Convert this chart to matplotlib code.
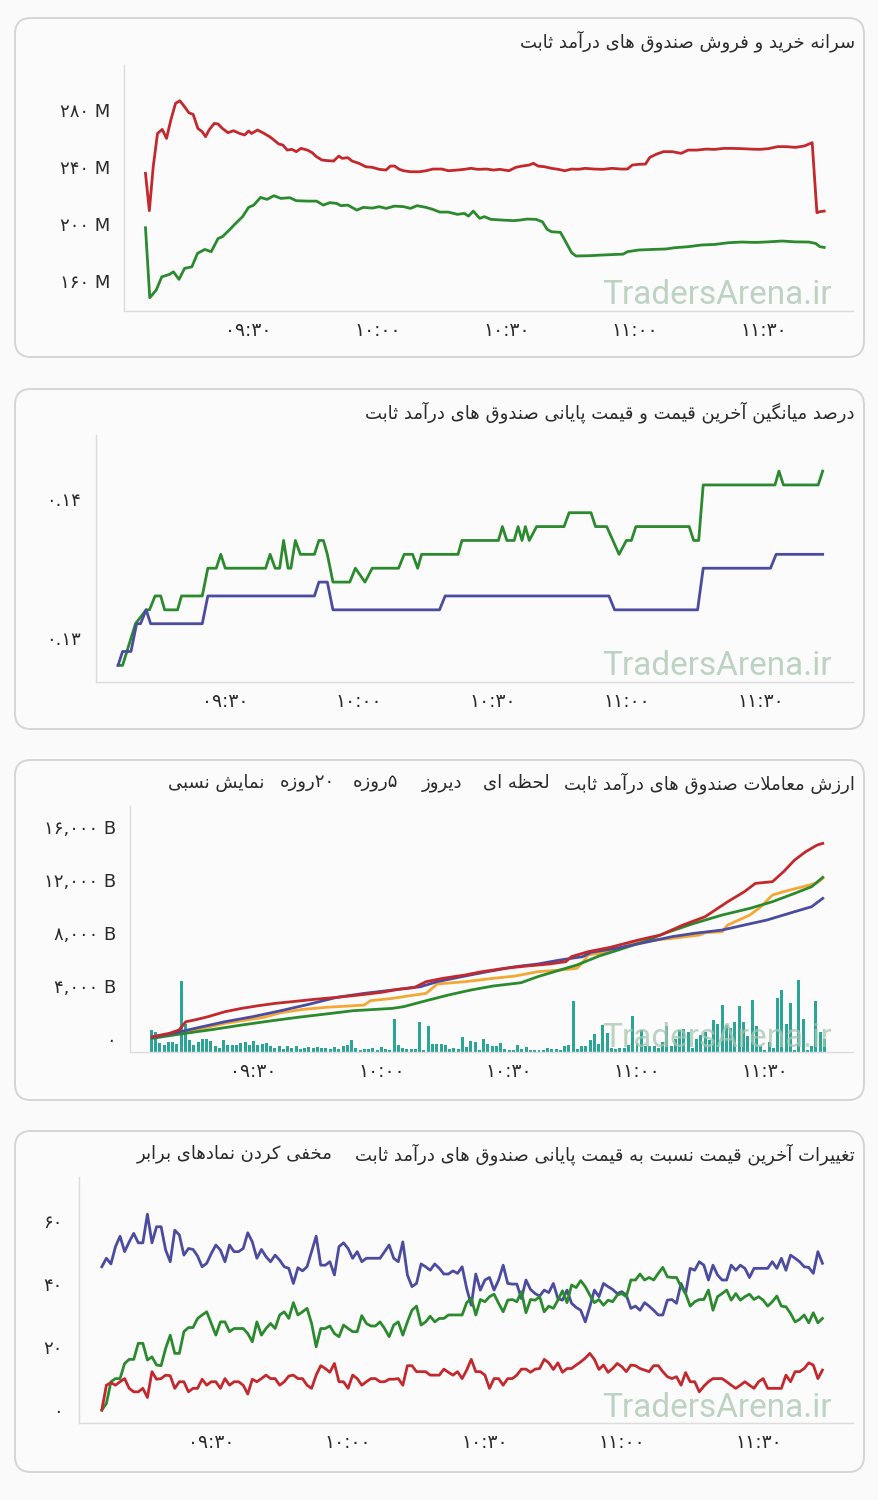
import matplotlib
matplotlib.use('Agg')
import matplotlib.pyplot as plt
import matplotlib.transforms as mtransforms
from matplotlib.patches import FancyBboxPatch

# ---------------- datos ----------------
# tiempo en minutos desde las 09:00
x_ticks = [30, 60, 90, 120, 150]
x_labels = ['09:30', '10:00', '10:30', '11:00', '11:30']

# panel 1: سرانه خرید و فروش (millones)
t_sell = [6.0, 6.9, 7.8, 8.8, 9.9, 10.9, 11.9, 13.0, 14.0, 15.1, 16.1, 17.1, 18.2, 19.2, 20.0, 20.8, 22.0, 22.9, 23.9, 25.2,
          26.5, 27.9, 29.1, 30.0, 30.7, 32.1, 33.3, 34.9, 35.9, 37.0, 38.0, 39.0, 40.1, 41.1, 42.2, 43.7, 44.8, 45.8, 47.1, 48.4,
          49.8, 51.0, 51.8, 53.1, 54.1, 55.7, 57.3, 58.8, 60.4, 62.0, 63.0, 64.0, 65.1, 66.1, 67.7, 69.8, 71.3, 72.9, 75.0, 76.5,
          78.6, 80.2, 81.8, 83.3, 85.4, 87.0, 88.5, 90.6, 92.2, 93.7, 95.3, 96.3, 97.4, 98.9, 100.5, 102.1, 103.6, 105.2, 106.8, 108.3,
          110.4, 112.5, 114.6, 116.7, 118.2, 119.3, 120.8, 122.4, 123.4, 125.0, 126.6, 128.6, 130.7, 132.3, 134.4, 136.5, 138.5, 140.6, 142.7, 144.8,
          146.9, 149.0, 151.0, 153.1, 155.2, 157.3, 159.4, 161.2, 162.3, 163.0, 164.0]
sell = [235.6, 209.4, 240.2, 263.6, 266.4, 260.1, 273.0, 284.7, 286.5, 282.3, 278.1, 276.9, 267.1, 264.8, 261.3, 266.0, 270.6, 270.2, 267.1, 264.1,
        265.5, 263.6, 262.5, 265.3, 263.6, 266.0, 264.1, 261.3, 259.0, 256.2, 255.4, 251.9, 252.4, 250.8, 253.1, 251.9, 250.1, 247.3, 244.9, 244.5,
        244.2, 247.7, 246.1, 246.6, 244.2, 242.6, 240.2, 239.8, 238.4, 237.9, 240.7, 240.7, 238.4, 237.4, 236.7, 236.7, 237.4, 238.6, 238.6, 237.4,
        237.9, 238.4, 239.1, 238.4, 238.6, 237.9, 238.4, 237.4, 239.8, 240.7, 241.4, 242.6, 240.7, 240.2, 239.1, 238.4, 237.4, 238.6, 238.4, 239.1,
        238.6, 238.4, 239.1, 238.6, 238.6, 241.4, 241.9, 242.1, 246.8, 249.1, 250.8, 250.8, 249.6, 251.9, 251.9, 252.6, 252.4, 253.1, 253.1, 252.9,
        252.6, 252.4, 252.9, 254.3, 254.3, 253.8, 254.8, 257.1, 208.0, 208.7, 209.1]
t_buy = [6.0, 7.0, 8.5, 9.8, 11.6, 12.5, 13.8, 15.1, 16.8, 18.1, 19.8, 21.3, 22.9, 23.9, 25.5, 27.0, 28.6, 30.0, 31.2, 32.8,
         34.3, 35.9, 37.5, 39.6, 41.1, 43.7, 45.8, 47.4, 48.9, 50.5, 51.5, 53.1, 55.2, 56.7, 58.8, 60.4, 62.0, 64.0, 66.1, 67.7,
         69.2, 71.3, 72.9, 74.5, 76.5, 78.6, 80.2, 81.2, 82.3, 83.8, 84.9, 86.4, 89.0, 91.7, 93.2, 94.8, 96.9, 98.4, 99.5, 100.5,
         102.6, 103.6, 105.2, 106.2, 109.4, 112.5, 115.6, 117.2, 118.2, 120.8, 124.0, 127.1, 129.2, 132.3, 135.4, 138.5, 141.7, 144.8, 147.9, 151.0,
         154.2, 157.3, 160.4, 162.0, 163.0, 164.0]
buy = [197.4, 148.3, 153.7, 163.0, 164.7, 166.5, 161.2, 168.9, 170.0, 179.4, 182.2, 180.6, 189.9, 191.1, 195.8, 200.5, 205.2, 211.7, 213.3, 218.7,
       217.3, 219.9, 218.0, 218.5, 216.4, 216.1, 216.1, 213.3, 215.0, 214.5, 212.9, 213.3, 209.8, 211.7, 211.2, 212.2, 211.0, 212.6, 212.2, 211.0,
       212.9, 211.7, 210.3, 208.4, 208.4, 206.8, 207.5, 205.6, 209.1, 204.0, 205.2, 203.3, 202.8, 202.4, 202.8, 203.5, 203.3, 201.6, 196.3, 194.6,
       194.2, 188.8, 179.9, 177.6, 177.8, 178.3, 178.7, 178.9, 180.6, 181.8, 182.2, 182.5, 183.4, 184.1, 185.3, 185.7, 186.9, 187.4, 187.1, 187.5,
       188.1, 187.5, 187.4, 186.4, 184.1, 183.6]

# panel 2: درصد میانگین
t_last = [5.95, 6.96, 9.85, 12.24, 12.99, 14.25, 15.51, 16.39, 19.28, 20.16, 24.82, 26.07, 27.96, 28.97, 29.97, 39.03, 40.03, 41.16, 42.17, 43.05,
          44.06, 44.69, 45.69, 46.82, 49.97, 50.97, 51.98, 52.86, 54.12, 57.89, 59.15, 61.29, 62.92, 68.83, 70.09, 71.98, 73.11, 73.99, 82.16, 83.04,
          91.22, 92.1, 93.1, 94.74, 95.62, 96.5, 97.25, 98.13, 99.77, 105.93, 107.06, 111.97, 112.98, 115.49, 118.26, 119.89, 121.02, 122.03, 133.97, 134.98,
          136.11, 137.12, 153.21, 154.1, 155.1, 162.9, 163.9]
last_pct = [0.128, 0.128, 0.131, 0.132, 0.132, 0.133, 0.133, 0.132, 0.132, 0.133, 0.133, 0.135, 0.135, 0.136, 0.135, 0.135, 0.136, 0.135, 0.135, 0.137,
            0.135, 0.135, 0.137, 0.136, 0.136, 0.137, 0.137, 0.136, 0.134, 0.134, 0.135, 0.134, 0.135, 0.135, 0.136, 0.136, 0.135, 0.136, 0.136, 0.137,
            0.137, 0.138, 0.137, 0.137, 0.138, 0.137, 0.138, 0.137, 0.138, 0.138, 0.139, 0.139, 0.138, 0.138, 0.136, 0.137, 0.137, 0.138, 0.138, 0.137,
            0.137, 0.141, 0.141, 0.142, 0.141, 0.141, 0.142]
t_close = [5.95, 6.96, 8.84, 10.1, 10.98, 12.24, 13.25, 24.82, 26.07, 49.97, 50.97, 52.86, 54.12, 78.01, 79.27, 115.99, 117.25, 135.86, 137.12, 152.21,
           153.47, 163.9]
close_pct = [0.128, 0.129, 0.129, 0.131, 0.131, 0.132, 0.131, 0.131, 0.133, 0.133, 0.134, 0.134, 0.132, 0.132, 0.133, 0.133, 0.132, 0.132, 0.135, 0.135,
             0.136, 0.136]

# panel 3: ارزش معاملات (میلیارد)
t_val_red = [6.2, 10.2, 12.5, 14.1, 16.1, 19.3, 23.3, 27.2, 31.1, 35.1, 39.0, 44.2, 49.5, 54.7, 60.0, 63.9, 67.8, 70.5, 74.4, 79.6,
             83.6, 88.8, 94.1, 99.3, 103.3, 104.6, 108.5, 113.7, 120.3, 125.5, 130.8, 136.0, 141.3, 145.2, 147.8, 151.8, 154.4, 157.0, 159.6, 162.3, 163.6]
val_red = [173, 425, 676, 1305, 1431, 1683, 2060, 2312, 2513, 2689, 2815, 2991, 3142, 3318, 3519, 3746, 3897, 4325, 4576, 4828,
           5080, 5331, 5507, 5658, 5836, 6212, 6589, 6916, 7470, 7847, 8602, 9231, 10363, 11118, 11747, 11873, 12627, 13508, 14137, 14640, 14766]
t_val_blue = [6.2, 12.8, 18.0, 23.3, 29.8, 36.4, 42.9, 49.5, 56.0, 62.6, 69.2, 73.1, 79.6, 84.9, 91.4, 96.7, 101.9, 107.2, 109.2, 115.1,
              121.6, 128.2, 133.4, 140.0, 145.2, 150.5, 157.0, 161.0, 163.6]
val_blue = [123, 551, 928, 1305, 1683, 2136, 2614, 3142, 3444, 3696, 3947, 4325, 4752, 5080, 5457, 5658, 5960, 6212, 6539, 6841,
            7268, 7721, 7973, 8224, 8602, 8979, 9608, 9986, 10615]
t_val_orange = [6.2, 12.8, 18.0, 23.3, 27.2, 32.4, 36.4, 41.6, 46.9, 52.1, 56.0, 57.4, 62.6, 67.8, 70.5, 73.1, 79.6, 86.2, 91.4, 96.7,
                101.9, 105.9, 107.2, 108.5, 113.7, 120.3, 128.2, 134.7, 136.0, 140.0, 141.3, 146.5, 149.1, 151.8, 154.4, 159.6, 162.3, 163.6]
val_orange = [123, 475, 802, 1180, 1381, 1633, 1985, 2237, 2388, 2488, 2563, 2890, 3066, 3318, 3444, 4149, 4325, 4576, 4752, 5080,
              5205, 5331, 5759, 6338, 6589, 7344, 7595, 7847, 8023, 8099, 8602, 9357, 9986, 10866, 11118, 11546, 11797, 12124]
t_val_green = [6.2, 12.8, 20.6, 27.2, 33.8, 40.3, 46.9, 53.4, 62.6, 65.2, 70.5, 75.7, 81.0, 86.2, 92.8, 96.7, 101.9, 105.9, 111.1, 115.1,
               121.6, 126.9, 133.4, 140.0, 146.5, 151.8, 157.0, 161.0, 163.6]
val_green = [47, 375, 726, 1054, 1356, 1633, 1884, 2136, 2312, 2438, 2890, 3318, 3696, 3998, 4249, 4702, 5205, 5583, 6262, 6665,
             7344, 8023, 8728, 9357, 9860, 10363, 10992, 11495, 12200]
# ارزش معاملات هر دقیقه، از دقیقه ۶ تا ۱۶۴
minute_value = [220, 200, 90, 70, 100, 100, 80, 710, 280, 120,
                70, 100, 130, 130, 110, 60, 40, 120, 70, 70,
                70, 90, 100, 70, 110, 70, 80, 90, 60, 40,
                60, 30, 60, 40, 60, 30, 40, 50, 40, 50,
                40, 40, 30, 50, 30, 60, 70, 120, 40, 20,
                30, 30, 40, 20, 50, 30, 20, 330, 70, 40,
                30, 30, 30, 300, 20, 260, 80, 80, 80, 70,
                30, 40, 30, 150, 50, 110, 100, 20, 130, 80,
                60, 60, 90, 30, 20, 20, 70, 30, 50, 20,
                20, 20, 20, 40, 30, 30, 20, 60, 70, 510,
                30, 60, 60, 120, 180, 80, 270, 190, 40, 30,
                40, 40, 70, 360, 90, 220, 60, 60, 60, 40,
                100, 260, 60, 130, 220, 230, 200, 40, 130, 170,
                200, 120, 320, 280, 470, 270, 240, 300, 460, 300,
                160, 520, 260, 60, 20, 100, 40, 540, 620, 280,
                490, 20, 720, 330, 20, 60, 510, 200, 130]
minute_t = list(range(6, 6 + len(minute_value)))

# panel 4: تغییرات آخرین قیمت نسبت به قیمت پایانی
t_chg = list(range(6, 165))
chg_blue = [45.5, 48.2, 46.4, 51.9, 55.2, 50.3, 53.4, 56.1, 53.1, 53.1,
            62.2, 53.1, 58.2, 58.2, 50.8, 47.1, 57.1, 55.6, 49.2, 51.3,
            51.0, 48.9, 45.5, 46.6, 49.7, 52.4, 50.8, 47.1, 52.4, 50.3,
            50.3, 51.3, 56.3, 53.4, 48.2, 51.0, 48.7, 47.1, 49.2, 47.6,
            45.5, 45.0, 40.2, 45.2, 44.2, 45.5, 50.3, 55.2, 46.0, 46.0,
            47.1, 42.9, 51.9, 53.1, 51.3, 48.2, 50.3, 47.1, 48.2, 48.2,
            48.2, 48.2, 50.3, 52.4, 48.2, 47.1, 53.4, 42.9, 39.2, 40.2,
            46.4, 45.5, 44.4, 46.4, 45.0, 43.2, 43.2, 44.2, 43.4, 45.5,
            38.6, 33.3, 43.2, 38.1, 41.3, 42.1, 38.1, 41.3, 46.0, 40.2,
            40.0, 40.0, 35.4, 41.3, 38.3, 37.0, 36.2, 38.1, 37.3, 40.2,
            35.4, 34.9, 38.1, 33.9, 32.6, 31.7, 28.0, 32.8, 38.1, 36.0,
            40.2, 39.2, 38.3, 37.0, 37.6, 36.5, 32.3, 33.0, 31.7, 34.1,
            33.0, 31.7, 30.2, 30.2, 34.9, 35.1, 33.9, 40.2, 37.0, 45.0,
            44.4, 47.1, 46.0, 41.3, 46.0, 42.9, 41.3, 41.3, 46.0, 44.4,
            46.0, 45.0, 42.1, 45.0, 45.0, 45.0, 45.0, 47.1, 45.0, 48.2,
            44.4, 49.2, 48.2, 47.1, 45.5, 45.3, 43.4, 50.3, 46.6]
chg_green = [0.0, 2.1, 9.0, 10.0, 10.0, 14.8, 16.1, 16.1, 21.2, 21.2,
             15.9, 16.9, 14.3, 14.1, 19.6, 23.8, 18.0, 18.0, 24.9, 26.2,
             26.2, 29.1, 30.2, 31.2, 27.5, 23.8, 28.0, 28.0, 24.9, 25.9,
             25.9, 25.9, 24.3, 21.7, 28.0, 23.8, 25.9, 27.5, 25.9, 30.2,
             31.2, 29.1, 34.1, 30.2, 31.2, 32.3, 27.5, 20.1, 25.9, 25.9,
             26.7, 24.3, 23.3, 27.0, 25.9, 24.9, 24.9, 30.0, 27.5, 26.7,
             26.7, 28.0, 25.9, 23.3, 27.0, 28.0, 23.8, 28.0, 31.7, 33.0,
             27.0, 28.0, 29.8, 28.0, 29.1, 29.1, 30.2, 30.2, 30.2, 30.2,
             34.1, 35.5, 30.2, 35.1, 34.4, 36.0, 36.8, 33.9, 31.2, 34.9,
             35.1, 34.4, 37.6, 30.9, 35.1, 34.9, 36.0, 31.2, 33.0, 32.3,
             34.9, 37.9, 34.1, 39.7, 38.9, 41.1, 39.2, 36.5, 34.1, 35.1,
             33.3, 34.9, 34.4, 36.5, 37.0, 36.0, 41.3, 41.3, 43.2, 41.3,
             42.1, 41.3, 43.4, 45.3, 42.3, 42.1, 42.1, 39.2, 37.0, 33.0,
             34.4, 35.1, 35.1, 38.1, 31.7, 36.0, 37.0, 38.1, 34.9, 37.0,
             34.9, 36.0, 36.8, 35.1, 36.0, 34.9, 33.0, 34.4, 36.2, 33.0,
             32.8, 30.7, 28.0, 28.8, 30.2, 27.7, 30.9, 27.7, 29.1]
chg_red = [0.0, 7.9, 8.7, 7.9, 9.0, 10.0, 6.9, 5.8, 5.8, 6.9,
           4.0, 12.2, 9.8, 10.0, 11.1, 10.9, 6.9, 9.0, 9.0, 5.8,
           6.9, 6.9, 9.8, 7.9, 9.0, 9.0, 6.9, 10.0, 7.9, 9.0,
           9.0, 7.9, 5.1, 9.8, 9.0, 10.0, 11.1, 10.0, 10.0, 7.9,
           9.0, 10.8, 11.1, 10.0, 10.0, 7.9, 6.9, 11.1, 14.1, 13.2,
           12.0, 14.8, 9.0, 9.0, 6.9, 11.1, 10.0, 7.9, 9.0, 10.0,
           10.0, 9.0, 9.0, 9.8, 9.8, 10.0, 7.9, 14.1, 14.1, 12.2,
           12.2, 12.2, 11.1, 11.1, 11.1, 13.0, 12.0, 11.1, 12.2, 10.0,
           12.7, 16.1, 12.2, 12.2, 11.1, 6.9, 10.0, 10.0, 7.9, 10.0,
           10.0, 11.1, 13.0, 13.0, 12.0, 13.0, 13.2, 16.1, 15.0, 12.9,
           15.0, 12.0, 13.2, 13.2, 14.3, 15.3, 16.5, 18.0, 16.1, 12.9, 14.3,
           12.0, 13.2, 14.8, 13.8, 12.2, 14.3, 14.1, 13.2, 12.7, 12.2,
           14.1, 14.1, 12.2, 10.6, 10.0, 10.6, 7.9, 11.9, 9.0, 9.0,
           5.8, 7.6, 9.0, 10.0, 10.0, 10.0, 9.0, 7.9, 6.9, 7.9,
           9.0, 7.9, 6.9, 9.0, 10.0, 6.9, 6.9, 6.9, 6.9, 11.1, 9.0,
           12.2, 12.2, 13.2, 15.0, 14.3, 10.0, 12.7]

# ---------------- متن فارسی ----------------
FORMS = {
    'ا': ('\uFE8D', '\uFE8E', None, None), 'آ': ('\uFE81', '\uFE82', None, None),
    'ب': ('\uFE8F', '\uFE90', '\uFE91', '\uFE92'), 'پ': ('\uFB56', '\uFB57', '\uFB58', '\uFB59'),
    'ت': ('\uFE95', '\uFE96', '\uFE97', '\uFE98'), 'ث': ('\uFE99', '\uFE9A', '\uFE9B', '\uFE9C'),
    'ح': ('\uFEA1', '\uFEA2', '\uFEA3', '\uFEA4'), 'خ': ('\uFEA5', '\uFEA6', '\uFEA7', '\uFEA8'),
    'د': ('\uFEA9', '\uFEAA', None, None), 'ر': ('\uFEAD', '\uFEAE', None, None),
    'ز': ('\uFEAF', '\uFEB0', None, None), 'س': ('\uFEB1', '\uFEB2', '\uFEB3', '\uFEB4'),
    'ش': ('\uFEB5', '\uFEB6', '\uFEB7', '\uFEB8'), 'ص': ('\uFEB9', '\uFEBA', '\uFEBB', '\uFEBC'),
    'ظ': ('\uFEC5', '\uFEC6', '\uFEC7', '\uFEC8'), 'ع': ('\uFEC9', '\uFECA', '\uFECB', '\uFECC'),
    'غ': ('\uFECD', '\uFECE', '\uFECF', '\uFED0'), 'ف': ('\uFED1', '\uFED2', '\uFED3', '\uFED4'),
    'ق': ('\uFED5', '\uFED6', '\uFED7', '\uFED8'), 'ک': ('\uFB8E', '\uFB8F', '\uFB90', '\uFB91'),
    'گ': ('\uFB92', '\uFB93', '\uFB94', '\uFB95'), 'ل': ('\uFEDD', '\uFEDE', '\uFEDF', '\uFEE0'),
    'م': ('\uFEE1', '\uFEE2', '\uFEE3', '\uFEE4'), 'ن': ('\uFEE5', '\uFEE6', '\uFEE7', '\uFEE8'),
    'ه': ('\uFEE9', '\uFEEA', '\uFEEB', '\uFEEC'), 'و': ('\uFEED', '\uFEEE', None, None),
    'ی': ('\uFBFC', '\uFBFD', '\uFBFE', '\uFBFF'),
    'لا': ('\uFEFB', '\uFEFC', None, None), 'لآ': ('\uFEF5', '\uFEF6', None, None),
}
FA_DIGITS = '۰۱۲۳۴۵۶۷۸۹'


def fa(text):
    # شکل دادن حروف و ترتیب راست به چپ
    units, i = [], 0
    while i < len(text):
        if text[i] == 'ل' and i + 1 < len(text) and text[i + 1] in 'اآ':
            units.append(text[i:i + 2])
            i += 2
        else:
            units.append(text[i])
            i += 1
    shaped = []
    for k, u in enumerate(units):
        if u not in FORMS:
            shaped.append(u)
            continue
        f = FORMS[u]
        prev = units[k - 1] if k > 0 else None
        nxt = units[k + 1] if k + 1 < len(units) else None
        jp = prev in FORMS and FORMS[prev][2] is not None
        jn = f[2] is not None and nxt in FORMS
        shaped.append(f[3] if jp and jn else f[1] if jp else f[2] if jn else f[0])
    runs = []
    for ch in shaped:
        d = ch in FA_DIGITS
        if runs and runs[-1][0] == d:
            runs[-1][1].append(ch)
        else:
            runs.append([d, [ch]])
    return ''.join(''.join(c) if d else ''.join(reversed(c)) for d, c in reversed(runs))


def fa_num(s):
    return s.translate(str.maketrans('0123456789', FA_DIGITS))


# ---------------- figura ----------------
W, H = 879, 1500
fig = plt.figure(figsize=(W / 100, H / 100), dpi=100, facecolor='#fafafa')

RED = '#c3282d'
GREEN = '#2b8a2e'
BLUE = '#4b4ba0'
ORANGE = '#f4a733'
TEAL = '#2aa596'
TXT = '#2a2a2a'
FONT = ['DejaVu Sans']


def box(top, bottom):
    p = FancyBboxPatch((15, H - bottom), 849, bottom - top,
                       boxstyle='round,pad=0,rounding_size=16',
                       transform=mtransforms.IdentityTransform(),
                       facecolor='#fbfbfb', edgecolor='#d5d5d5', lw=1.4, zorder=0)
    fig.add_artist(p)


def make_ax(left, right, top, bottom, ylim, yticks, ylabels, ypad):
    ax = fig.add_axes([left / W, 1 - bottom / H, (right - left) / W, (bottom - top) / H])
    ax.set_facecolor('none')
    ax.set_xlim(1.0, 170.7)
    ax.set_ylim(*ylim)
    for s in ['top', 'right']:
        ax.spines[s].set_visible(False)
    for s in ['left', 'bottom']:
        ax.spines[s].set_color('#dcdcdc')
        ax.spines[s].set_linewidth(1.0)
    ax.set_xticks(x_ticks)
    ax.set_xticklabels([fa_num(l) for l in x_labels], family=FONT, fontsize=13.5, color=TXT)
    ax.set_yticks(yticks)
    ax.set_yticklabels(ylabels, family=FONT, fontsize=13, color=TXT)
    ax.tick_params(axis='x', length=0, pad=7)
    ax.tick_params(axis='y', length=0, pad=ypad)
    return ax


def watermark(ax, baseline):
    fig.text(832 / W, 1 - baseline / H, 'TradersArena.ir', ha='right', va='baseline',
             family='Roboto', fontsize=24, color='#a9c6b0', alpha=0.75, zorder=10)


def title(x_right, y, s):
    fig.text(x_right / W, 1 - y / H, fa(s), ha='right', va='center', family=FONT,
             fontsize=13, color=TXT)


lw = 2.0

# panel 1
box(18, 357)
ax1 = make_ax(124, 853, 65, 311, (139, 311.6), [160, 200, 240, 280],
              [fa_num(str(v)) + ' M' for v in [160, 200, 240, 280]], 10)
ax1.plot(t_sell, sell, color=RED, lw=lw, solid_joinstyle='round')
ax1.plot(t_buy, buy, color=GREEN, lw=lw, solid_joinstyle='round')
title(855, 41, 'سرانه خرید و فروش صندوق های درآمد ثابت')
watermark(ax1, 304)

# panel 2
box(389, 729)
ax2 = make_ax(96, 853, 435, 682, (0.1268, 0.1446), [0.13, 0.14],
              [fa_num('0.13'), fa_num('0.14')], 11)
ax2.plot(t_last, last_pct, color=GREEN, lw=lw, solid_joinstyle='round')
ax2.plot(t_close, close_pct, color=BLUE, lw=lw, solid_joinstyle='round')
title(855, 412, 'درصد میانگین آخرین قیمت و قیمت پایانی صندوق های درآمد ثابت')
watermark(ax2, 675)

# panel 3
box(760, 1100)
ax3b = fig.add_axes([130 / W, 1 - 1052 / H, 723 / W, 246 / H])
ax3b.set_xlim(1.0, 170.7)
ax3b.set_ylim(0, 2460)
ax3b.axis('off')
ax3b.bar(minute_t, minute_value, width=0.7, color=TEAL, zorder=1)
ax3 = make_ax(130, 853, 806, 1052, (-981, 17585), [0, 4000, 8000, 12000, 16000],
              [fa_num('0')] + [fa_num(f'{v:,}') + ' B' for v in [4000, 8000, 12000, 16000]], 10)
ax3.plot(t_val_orange, val_orange, color=ORANGE, lw=lw, solid_joinstyle='round')
ax3.plot(t_val_green, val_green, color=GREEN, lw=lw, solid_joinstyle='round')
ax3.plot(t_val_blue, val_blue, color=BLUE, lw=lw, solid_joinstyle='round')
ax3.plot(t_val_red, val_red, color=RED, lw=lw, solid_joinstyle='round')
title(855, 783, 'ارزش معاملات صندوق های درآمد ثابت')
title(550, 783, 'لحظه ای')
title(462, 783, 'دیروز')
title(398, 783, '۵روزه')
title(335, 783, '۲۰روزه')
title(264, 783, 'نمایش نسبی')
watermark(ax3, 1047)

# panel 4
box(1131, 1472)
ax4 = make_ax(79, 853, 1177, 1423, (-4.1, 74), [0, 20, 40, 60],
              [fa_num(str(v)) for v in [0, 20, 40, 60]], 12)
ax4.plot(t_chg, chg_blue, color=BLUE, lw=lw, solid_joinstyle='round')
ax4.plot(t_chg, chg_green, color=GREEN, lw=lw, solid_joinstyle='round')
ax4.plot(t_chg, chg_red, color=RED, lw=lw, solid_joinstyle='round')
title(855, 1154, 'تغییرات آخرین قیمت نسبت به قیمت پایانی صندوق های درآمد ثابت')
title(333, 1154, 'مخفی کردن نمادهای برابر')
watermark(ax4, 1417)

fig.savefig('out.png', dpi=100, facecolor=fig.get_facecolor())
